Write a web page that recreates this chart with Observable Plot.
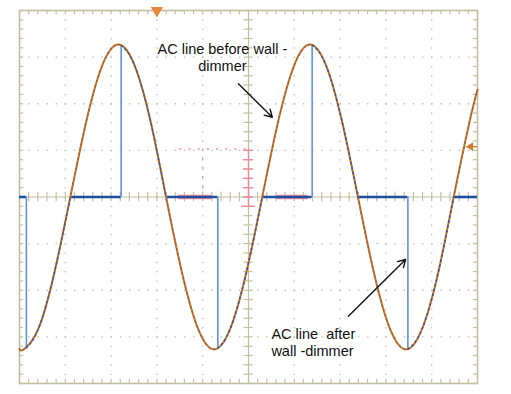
<!DOCTYPE html>
<html><head><meta charset="utf-8">
<script src="https://cdn.jsdelivr.net/npm/d3@7"></script>
<script src="https://cdn.jsdelivr.net/npm/@observablehq/plot@0.6"></script>
<style>
html,body{margin:0;padding:0;background:#fff;}
#chart{width:511px;height:394px;}
</style></head><body><div id="chart"></div>
<script>
// Orange trace: AC line before wall-dimmer (x, y in scope divisions)
const acX = [0.00, 0.09, 0.41, 0.76, 1.11, 1.46, 1.81, 2.16, 2.51, 2.86, 3.20, 3.55, 3.90, 4.25, 4.60, 4.95, 5.30, 5.65, 6.00, 6.34, 6.69, 7.04, 7.39, 7.74, 8.09, 8.44, 8.79, 9.14, 9.48, 9.83, 10.00];
const acY = [-3.26, -3.27, -2.83, -1.63, 0.00, 1.63, 2.83, 3.27, 2.83, 1.63, 0.00, -1.63, -2.83, -3.27, -2.83, -1.63, 0.00, 1.63, 2.83, 3.27, 2.83, 1.63, 0.00, -1.63, -2.83, -3.27, -2.83, -1.63, 0.00, 1.63, 2.30];

// Blue trace: AC line after wall-dimmer
const offStart = [0.00, 1.11, 3.20, 5.30, 7.39, 9.48];
const offEnd   = [0.15, 2.22, 4.33, 6.39, 8.48, 10.00];
const fireX = [0.15, 2.22, 4.33, 6.39, 8.48];
const fireY = [-3.24, 3.25, -3.24, 3.26, -3.26];
const condSeg = [0,0,0,0, 1,1,1,1, 2,2,2,2, 3,3,3,3, 4,4,4,4];
const condX = [0.15,0.41,0.76,1.11, 2.22,2.51,2.86,3.20, 4.33,4.60,4.95,5.30, 6.39,6.69,7.04,7.39, 8.48,8.79,9.14,9.48];
const condY = [-3.24,-2.83,-1.63,0, 3.25,2.83,1.63,0, -3.24,-2.83,-1.63,0, 3.26,2.83,1.63,0, -3.26,-2.83,-1.63,0];

// Third (pink) channel fragments
const pinkStart = [3.47, 5.62];
const pinkEnd   = [4.21, 6.30];

// Graticule
const majorX = [1, 2, 3, 4, 6, 7, 8, 9];
const majorY = [-3, -2, -1, 1, 2, 3];
const minorX = d3.range(0, 51).map(i => i / 5);
const minorY = d3.range(0, 41).map(i => i / 5 - 4);
const pinkTicks = [0, 0.2, 0.4, 0.6, 0.8, 1.0];

const label1 = "AC line before wall -\ndimmer";
const label2 = "AC line\u00a0 after\nwall -dimmer";

const ac = acX.map((x, i) => ({x, y: acY[i]}));
const off = offStart.map((s, i) => ({s, e: offEnd[i]}));
const fires = fireX.map((x, i) => ({x, y: fireY[i]}));
const cond = condX.map((x, i) => ({x, y: condY[i], seg: condSeg[i]}));
const pinks = pinkStart.map((s, i) => ({s, e: pinkEnd[i]}));

const khaki = "#c4bf9f";
const orange = "#c27332";
const blueDark = "#1f4fa0";
const blueLight = "#5f93d8";
const pink = "#ef8a9c";
const font = "Liberation Sans, Arial, sans-serif";

const chart = Plot.plot({
  width: 511, height: 394,
  marginLeft: 19, marginRight: 34, marginTop: 10, marginBottom: 11,
  x: {domain: [0, 10], axis: null},
  y: {domain: [-4, 4], axis: null},
  style: {background: "white", fontFamily: font, overflow: "visible"},
  marks: [
    // dotted grid
    Plot.ruleX(majorX, {stroke: "#bcbcbc", strokeWidth: 1.3, strokeDasharray: "1.4 7.925"}),
    Plot.ruleY(majorY, {stroke: "#bcbcbc", strokeWidth: 1.3, strokeDasharray: "1.4 7.76"}),
    // centre axes
    Plot.ruleY([0], {stroke: khaki, strokeWidth: 1.2}),
    Plot.ruleX([5], {stroke: khaki, strokeWidth: 1.2}),
    Plot.ruleX(minorX, {x: d => d, y1: -0.1, y2: 0.1, stroke: khaki, strokeWidth: 1.2}),
    Plot.ruleY(minorY, {y: d => d, x1: 4.9, x2: 5.1, stroke: khaki, strokeWidth: 1.2}),
    // border ticks
    Plot.ruleX(minorX, {x: d => d, y1: 4, y2: 3.91, stroke: khaki, strokeWidth: 1.2}),
    Plot.ruleX(minorX, {x: d => d, y1: -4, y2: -3.91, stroke: khaki, strokeWidth: 1.2}),
    Plot.ruleY(minorY, {y: d => d, x1: 0, x2: 0.09, stroke: khaki, strokeWidth: 1.2}),
    Plot.ruleY(minorY, {y: d => d, x1: 9.91, x2: 10, stroke: khaki, strokeWidth: 1.2}),
    Plot.frame({stroke: khaki, strokeWidth: 1.6}),
    // pink cursor bits
    Plot.ruleX([5], {y1: -0.2, y2: 1.03, stroke: pink, strokeWidth: 1.4}),
    Plot.ruleY(pinkTicks, {y: d => d, x1: 4.89, x2: 5.11, stroke: pink, strokeWidth: 1.3}),
    Plot.ruleY([-0.2], {x1: 4.85, x2: 5.15, stroke: pink, strokeWidth: 1.4}),
    Plot.ruleY([1.03], {x1: 3.5, x2: 5, stroke: pink, strokeWidth: 1.3, strokeDasharray: "2 7.2"}),
    Plot.ruleX([4.0], {y1: 0, y2: 1.03, stroke: pink, strokeWidth: 1.3, strokeDasharray: "2 7.3"}),
    Plot.ruleY(pinks, {x1: "s", x2: "e", y: 0, stroke: pink, strokeWidth: 4.5}),
    // blue trace after dimmer
    Plot.ruleY(off, {x1: "s", x2: "e", y: 0, stroke: blueDark, strokeWidth: 2.6}),
    Plot.ruleX(fires, {x: "x", y1: 0, y2: "y", stroke: blueLight, strokeWidth: 1.6}),
    // orange AC line before dimmer
    Plot.line(ac, {x: "x", y: "y", curve: "natural", stroke: orange, strokeWidth: 2}),
    Plot.line(ac, {x: "x", y: "y", curve: "natural", stroke: "#7a4522", strokeWidth: 1.3, strokeDasharray: "1 4", strokeOpacity: 0.55}),
    Plot.line(cond, {x: "x", y: "y", z: "seg", curve: "natural", stroke: blueDark, strokeWidth: 1.5, strokeDasharray: "1.5 3.5", strokeOpacity: 0.7}),
    // markers
    Plot.dot([3.0], {x: d => d, y: 4, symbol: "triangle", rotate: 180, r: 4.5, fill: "#e8833a", stroke: "none"}),
    Plot.dot([9.85], {x: d => d, y: 1.08, symbol: "triangle", rotate: -90, r: 3.2, fill: "#d07a30", stroke: "none"}),
    Plot.ruleY([1.08], {x1: 9.85, x2: 10, stroke: "#d07a30", strokeWidth: 1.3}),
    // annotations
    Plot.text([label1], {x: 4.43, y: 2.71, text: d => d, textAnchor: "middle", lineAnchor: "bottom", fontSize: 14.5, lineHeight: 1.17, fill: "#111"}),
    Plot.arrow([0], {x1: 4.78, y1: 2.43, x2: 5.52, y2: 1.71, stroke: "#111", strokeWidth: 1.4, headLength: 9, bend: 0}),
    Plot.text([label2], {x: 5.50, y: -3.40, text: d => d, textAnchor: "start", lineAnchor: "bottom", fontSize: 14.5, lineHeight: 1.17, fill: "#111"}),
    Plot.arrow([0], {x1: 7.18, y1: -2.56, x2: 8.43, y2: -1.34, stroke: "#111", strokeWidth: 1.4, headLength: 9, bend: 0})
  ]
});
document.getElementById("chart").appendChild(chart);
</script></body></html>
